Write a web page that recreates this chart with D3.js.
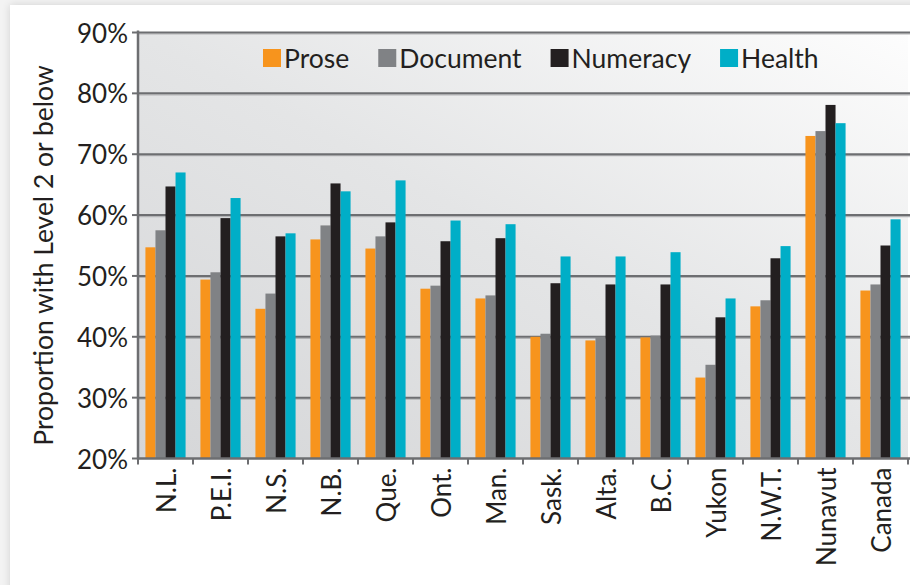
<!DOCTYPE html>
<html lang="en">
<head>
    <meta charset="UTF-8">
    <title>Level 2 or below</title>
    <script src="https://d3js.org/d3.v7.min.js"></script>
    <style>
        body { margin: 0; background: #f3f3f3; }
        svg text { font-family: Lato, "Open Sans", sans-serif; font-weight: 400; fill: #231f20; }
    </style>
</head>
<body>
<svg id="main" width="910" height="585"></svg>
<script>
    // data (percent)
    const regions = ['N.L.', 'P.E.I.', 'N.S.', 'N.B.', 'Que.', 'Ont.', 'Man.', 'Sask.', 'Alta.', 'B.C.', 'Yukon', 'N.W.T.', 'Nunavut', 'Canada'];
    const prose    = [54.7, 49.4, 44.6, 56.0, 54.5, 47.9, 46.3, 40.0, 39.4, 39.9, 33.3, 45.0, 73.0, 47.6];
    const docum    = [57.5, 50.6, 47.1, 58.3, 56.5, 48.4, 46.8, 40.5, 40.0, 40.2, 35.4, 46.0, 73.8, 48.6];
    const numeracy = [64.7, 59.5, 56.5, 65.2, 58.8, 55.7, 56.2, 48.8, 48.6, 48.6, 43.2, 52.9, 78.1, 55.0];
    const health   = [67.0, 62.8, 57.0, 63.9, 65.7, 59.1, 58.5, 53.2, 53.2, 53.9, 46.3, 54.9, 75.1, 59.3];
    const seriesNames = ['Prose', 'Document', 'Numeracy', 'Health'];
    const yTicks = [20, 30, 40, 50, 60, 70, 80, 90];

    const seriesColors = ['#f7941d', '#808285', '#231f20', '#00aec7'];
    const seriesValues = [prose, docum, numeracy, health];

    let svg = d3.select('svg#main');

    // white card with soft shadow
    let defs = svg.append('defs');
    let shadow = defs.append('filter').attr('id', 'shadow').attr('x', '-5%').attr('y', '-5%').attr('width', '110%').attr('height', '110%');
    shadow.append('feGaussianBlur').attr('in', 'SourceAlpha').attr('stdDeviation', 4);
    shadow.append('feOffset').attr('dx', 0).attr('dy', 0).attr('result', 'b');
    shadow.append('feComponentTransfer').append('feFuncA').attr('type', 'linear').attr('slope', 0.15);
    let fm = shadow.append('feMerge');
    fm.append('feMergeNode');
    fm.append('feMergeNode').attr('in', 'SourceGraphic');
    svg.append('rect').attr('x', 10).attr('y', 5).attr('width', 930).attr('height', 620)
        .attr('fill', '#fff').attr('filter', 'url(#shadow)');

    let grad = defs.append('linearGradient').attr('id', 'bg')
        .attr('x1', 0).attr('y1', 1).attr('x2', 1).attr('y2', 0);
    grad.append('stop').attr('offset', 0).attr('stop-color', '#d5d6d8');
    grad.append('stop').attr('offset', 0.5).attr('stop-color', '#e4e5e6');
    grad.append('stop').attr('offset', 1).attr('stop-color', '#fdfdfd');

    const pLeft = 138, pRight = 908, pTop = 32.5, pBottom = 458.5;

    let yScale = d3.scaleLinear().domain([20, 90]).range([pBottom, pTop]);
    let xScale = d3.scaleBand().domain(regions).range([pLeft, pRight])
        .paddingInner(0.27).paddingOuter(0.135);
    let x1 = d3.scaleBand().domain(seriesNames).range([0, xScale.bandwidth()]);

    // plot background
    svg.append('rect').attr('x', pLeft).attr('y', pTop)
        .attr('width', pRight - pLeft).attr('height', pBottom - pTop)
        .attr('fill', 'url(#bg)');

    // gridlines
    let grid = svg.append('g');
    yTicks.filter(t => t > 20).forEach(t => {
        grid.append('line').attr('x1', pLeft).attr('x2', 910)
            .attr('y1', yScale(t) + 1.5).attr('y2', yScale(t) + 1.5)
            .attr('stroke', '#b3b4b6').attr('stroke-width', 1.2);
        grid.append('line').attr('x1', pLeft).attr('x2', 910)
            .attr('y1', yScale(t)).attr('y2', yScale(t))
            .attr('stroke', '#6d6e71').attr('stroke-width', 2);
    });

    // bars
    let groups = svg.selectAll('g.series')
        .data(seriesValues)
        .enter()
        .append('g')
        .attr('class', 'series')
        .style('fill', (d, i) => seriesColors[i]);

    groups.selectAll('rect')
        .data((d, i) => d.map((v, j) => ({ v: v, region: regions[j], s: seriesNames[i] })))
        .enter()
        .append('rect')
        .attr('x', d => xScale(d.region) + x1(d.s))
        .attr('width', x1.bandwidth())
        .attr('y', d => yScale(d.v))
        .attr('height', d => pBottom - yScale(d.v));

    // axes lines
    let axisColor = '#6d6e71';
    svg.append('line').attr('x1', pLeft).attr('x2', pLeft).attr('y1', pTop - 2).attr('y2', pBottom + 1)
        .attr('stroke', axisColor).attr('stroke-width', 2.5);
    svg.append('line').attr('x1', pLeft - 1).attr('x2', 910).attr('y1', pBottom).attr('y2', pBottom)
        .attr('stroke', axisColor).attr('stroke-width', 2.5);

    // y ticks and labels
    yTicks.forEach(t => {
        svg.append('line').attr('x1', pLeft - 6).attr('x2', pLeft).attr('y1', yScale(t)).attr('y2', yScale(t))
            .attr('stroke', axisColor).attr('stroke-width', 2);
        svg.append('text').attr('x', pLeft - 10).attr('y', yScale(t))
            .attr('text-anchor', 'end').attr('dominant-baseline', 'central')
            .style('font-size', '26px').text(t + '%');
    });

    // x ticks at category boundaries and labels
    let step = xScale.step();
    regions.forEach((r, i) => {
        let bx = pLeft + i * step;
        svg.append('line').attr('x1', bx).attr('x2', bx).attr('y1', pBottom).attr('y2', pBottom + 6)
            .attr('stroke', axisColor).attr('stroke-width', 2);
        let cx = xScale(r) + xScale.bandwidth() / 2;
        svg.append('text')
            .attr('transform', `translate(${cx},${pBottom + 9}) rotate(-90)`)
            .attr('text-anchor', 'end').attr('dominant-baseline', 'central')
            .style('font-size', '26px').text(r);
    });
    svg.append('line').attr('x1', pRight).attr('x2', pRight).attr('y1', pBottom).attr('y2', pBottom + 6)
        .attr('stroke', axisColor).attr('stroke-width', 2);

    // y axis title
    svg.append('text')
        .attr('transform', `translate(43,${(pTop + pBottom) / 2 + 10}) rotate(-90)`)
        .attr('text-anchor', 'middle').attr('dominant-baseline', 'central')
        .style('font-size', '26.5px').text('Proportion with Level 2 or below');

    // legend
    let lx = 263;
    seriesNames.forEach((s, i) => {
        svg.append('rect').attr('x', lx).attr('y', 49).attr('width', 18).attr('height', 18)
            .attr('fill', seriesColors[i]);
        let t = svg.append('text').attr('x', lx + 21).attr('y', 58)
            .attr('dominant-baseline', 'central')
            .style('font-size', '26.5px').text(s);
        lx += 21 + t.node().getComputedTextLength() + 29;
    });
</script>
</body>
</html>
